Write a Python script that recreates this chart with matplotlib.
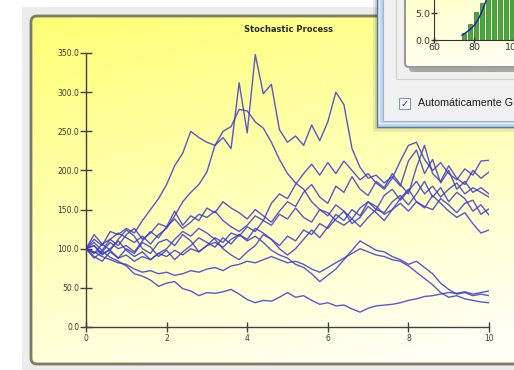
import numpy as np
import matplotlib
matplotlib.use('Agg')
import matplotlib.pyplot as plt
from matplotlib.patches import FancyBboxPatch, Rectangle

# ten simulated paths, one value every 0.2 time units (t = 0 .. 10)
path_1 = [100, 95, 97, 89, 84, 78, 68, 65, 60, 52, 56, 58, 49, 46, 40, 44, 43, 45, 48, 42,
          35, 31, 34, 33, 38, 44, 38, 40, 34, 29, 31, 27, 28, 23, 19, 24, 27, 28, 29, 31,
          34, 36, 39, 40, 42, 44, 43, 45, 42, 44, 46]
path_2 = [100, 96, 90, 86, 82, 80, 74, 70, 72, 68, 70, 66, 68, 72, 70, 74, 76, 72, 78, 80,
          84, 82, 86, 90, 86, 82, 84, 80, 74, 70, 76, 82, 88, 94, 100, 96, 92, 90, 86, 84,
          78, 70, 62, 54, 44, 38, 40, 36, 34, 32, 31]
path_3 = [100, 104, 94, 98, 88, 92, 84, 90, 86, 94, 90, 98, 92, 100, 96, 104, 108, 102, 112, 118,
          110, 116, 108, 98, 92, 88, 80, 76, 68, 58, 66, 74, 86, 98, 110, 104, 98, 96, 90, 86,
          80, 84, 76, 68, 56, 48, 42, 44, 40, 42, 40]
path_4 = [100, 108, 98, 112, 120, 114, 108, 116, 106, 118, 126, 142, 160, 172, 182, 198, 232, 242, 228, 312,
          248, 348, 298, 310, 252, 236, 244, 232, 258, 238, 262, 300, 284, 228, 204, 190, 194, 184, 192, 180,
          212, 226, 196, 214, 184, 200, 176, 186, 172, 178, 170]
path_5 = [100, 112, 104, 122, 118, 126, 120, 136, 150, 164, 182, 206, 222, 250, 242, 236, 232, 250, 256, 278,
          276, 262, 254, 236, 214, 196, 184, 176, 160, 150, 146, 136, 130, 138, 128, 140, 150, 146, 160, 168,
          156, 170, 186, 166, 178, 160, 172, 164, 148, 156, 143]
path_6 = [100, 94, 106, 112, 104, 118, 126, 112, 120, 132, 128, 138, 126, 134, 144, 140, 148, 136, 128, 122,
          130, 142, 136, 158, 170, 164, 182, 196, 208, 194, 210, 196, 212, 200, 188, 196, 184, 176, 190, 212,
          232, 236, 214, 200, 210, 196, 188, 202, 194, 212, 213]
path_7 = [100, 88, 96, 108, 100, 104, 96, 110, 122, 114, 128, 148, 130, 142, 136, 152, 146, 160, 152, 146,
          138, 150, 142, 134, 148, 160, 154, 172, 182, 166, 158, 180, 172, 192, 176, 168, 186, 178, 196, 182,
          170, 204, 232, 196, 186, 206, 190, 182, 200, 190, 198]
path_8 = [100, 118, 106, 98, 112, 124, 116, 100, 94, 108, 112, 104, 118, 110, 96, 104, 114, 108, 120, 116,
          128, 122, 136, 130, 144, 138, 152, 140, 134, 150, 142, 156, 148, 138, 152, 160, 150, 168, 176, 162,
          174, 186, 170, 180, 166, 176, 184, 170, 178, 172, 166]
path_9 = [100, 90, 84, 96, 88, 100, 94, 108, 102, 90, 98, 86, 96, 104, 114, 108, 102, 114, 106, 118,
          112, 126, 120, 112, 104, 116, 110, 124, 118, 132, 126, 138, 148, 132, 140, 154, 146, 136, 150, 158,
          148, 160, 154, 150, 164, 156, 146, 158, 162, 144, 151]
path_10 = [100, 104, 92, 100, 110, 98, 90, 96, 86, 94, 100, 112, 122, 116, 126, 120, 112, 100, 92, 86,
           96, 104, 118, 112, 100, 92, 100, 112, 124, 114, 128, 144, 136, 150, 142, 160, 154, 144, 150, 164,
           176, 160, 152, 168, 158, 148, 140, 146, 132, 120, 124]
paths = [path_1, path_2, path_3, path_4, path_5, path_6, path_7, path_8, path_9, path_10]

y_ticks = [0, 50, 100, 150, 200, 250, 300, 350]
x_ticks = [0, 2, 4, 6, 8, 10]
title = 'Stochastic Process'

# histogram window lying on top (upper right corner)
hist_centers = [75, 78, 81, 84, 87, 90, 93, 96, 99]
hist_heights = [1.3, 3.0, 5.2, 7.0, 8.5, 9.5, 10.0, 10.5, 11.0]
curve_x = [74, 76, 78, 80, 82, 84, 86, 88]
curve_y = [0.9, 1.4, 2.0, 2.7, 3.8, 5.4, 7.4, 9.5]
hist_yticks = [0, 5]
hist_xticks = [60, 80, 100]
checkbox_text = 'Automáticamente G'

W, H = 514, 370
fig = plt.figure(figsize=(W / 100, H / 100), dpi=100)
fig.patch.set_facecolor('white')


def px_axes(x0, y0, x1, y1, **kw):
    # axes placed by a pixel box, y counted from the top
    return fig.add_axes([x0 / W, 1 - y1 / H, (x1 - x0) / W, (y1 - y0) / H], **kw)


def gradient(top, bottom, nx=300, ny=200, hx=0.3):
    gy, gx = np.mgrid[0:1:ny * 1j, 0:1:nx * 1j]
    t = np.clip(0.8 * gy + hx * gx, 0, 1)[..., None]
    top = np.array(matplotlib.colors.to_rgb(top))
    bottom = np.array(matplotlib.colors.to_rgb(bottom))
    return top * (1 - t) + bottom * t


# background: grey frame + yellow panel
bg = fig.add_axes([0, 0, 1, 1], zorder=0)
bg.axis('off')
bg.add_patch(Rectangle((22, 7), 600, 400, fc='#ececec', ec='none'))
panel = FancyBboxPatch((31, 16), 520, 348, boxstyle='round,pad=0,rounding_size=6',
                       fc='none', ec='#7c7c66', lw=2, zorder=3)
bg.add_patch(panel)
im = bg.imshow(gradient('#ffff74', '#fffff4'), extent=(31, 551, 364, 16), aspect='auto', zorder=2)
im.set_clip_path(panel)
bg.set_xlim(0, W)
bg.set_ylim(H, 0)

# main chart
ax = px_axes(86, 53, 489, 327, zorder=1)
ax.set_facecolor('none')
for p in paths:
    x = np.linspace(0, 10, len(p))
    ax.plot(x, p, color='#3a3acf', lw=1.0, alpha=0.85)
ax.set_xlim(0, 10)
ax.set_ylim(0, 350)
for s in ['top', 'right']:
    ax.spines[s].set_visible(False)
for s in ['left', 'bottom']:
    ax.spines[s].set_color('#404040')
    ax.spines[s].set_linewidth(1)
ax.set_yticks(y_ticks)
ax.set_yticklabels(['%.1f' % v for v in y_ticks])
ax.set_xticks(x_ticks)
ax.set_xticklabels([str(v) for v in x_ticks])
ax.tick_params(axis='y', direction='inout', length=8.6, width=1, color='#404040',
               labelsize=5.5, labelcolor='#3a3a3a', pad=0.5)
ax.tick_params(axis='x', direction='inout', length=7.2, width=1, color='#404040',
               labelsize=5.5, labelcolor='#3a3a3a', pad=1.5)
fig.text(289 / W, 1 - 30 / H, title, ha='center', va='center', fontsize=6,
         fontweight='bold', color='#2a2a2a')

# overlapping dialog window
win = fig.add_axes([0, 0, 1, 1], zorder=5)
win.axis('off')
win.set_facecolor('none')
win.add_patch(Rectangle((373, -5), 160, 137, fc='black', alpha=0.08, ec='none'))
win.add_patch(Rectangle((375, -5), 160, 134, fc='black', alpha=0.10, ec='none'))
win.add_patch(Rectangle((377, -5), 160, 132, fc='#bcd2ee', ec='#5a7aa6', lw=1))
win.add_patch(Rectangle((379, -5), 160, 128, fc='none', ec='#e6f0fb', lw=1))
win.add_patch(Rectangle((383, -5), 150, 126, fc='#f0f0f0', ec='#9fb3cc', lw=0.8))
win.add_patch(Rectangle((396, -5), 150, 84, fc='none', ec='#d0d0d0', lw=0.8))
win.add_patch(FancyBboxPatch((409, -10), 130, 82, boxstyle='round,pad=0,rounding_size=4',
                             fc='#505050', alpha=0.45, ec='none'))
mini_panel = FancyBboxPatch((405, -10), 130, 77, boxstyle='round,pad=0,rounding_size=4',
                            fc='none', ec='#9a9a9a', lw=1.5, zorder=3)
win.add_patch(mini_panel)
im2 = win.imshow(gradient('#ffffc8', '#fffff6', hx=0.2), extent=(405, 535, 67, -10),
                 aspect='auto', zorder=2)
im2.set_clip_path(mini_panel)
win.add_patch(Rectangle((399, 98), 11, 11, fc='#f4f8fc', ec='#8a9bb0', lw=0.8))
win.text(404.5, 103.5, '\u2713', ha='center', va='center', fontsize=7,
         color='#2b3f80', fontweight='bold')
win.text(418, 103.5, checkbox_text, ha='left', va='center', fontsize=7.7,
         family='Liberation Sans', color='#1a1a1a')
win.set_xlim(0, W)
win.set_ylim(H, 0)

mini = px_axes(434, 0, 514, 40, zorder=6)
mini.set_facecolor('none')
mini.bar(hist_centers, hist_heights, width=2.2, color='#47a83c', edgecolor='#2e7a26', lw=0.5)
mini.plot(curve_x, curve_y, color='#1a1ab4', lw=1)
mini.set_xlim(60, 100)
mini.set_ylim(0, 40 / 5.3)
for s in ['top', 'right']:
    mini.spines[s].set_visible(False)
for s in ['left', 'bottom']:
    mini.spines[s].set_color('#333333')
mini.set_yticks(hist_yticks)
mini.set_yticklabels(['%.1f' % v for v in hist_yticks])
mini.set_xticks(hist_xticks)
mini.set_xticklabels([str(v) for v in hist_xticks])
mini.tick_params(direction='inout', length=4, width=1, color='#333333',
                 labelsize=6.8, labelcolor='#333333', pad=0.5)

fig.savefig('out.png', dpi=100)
